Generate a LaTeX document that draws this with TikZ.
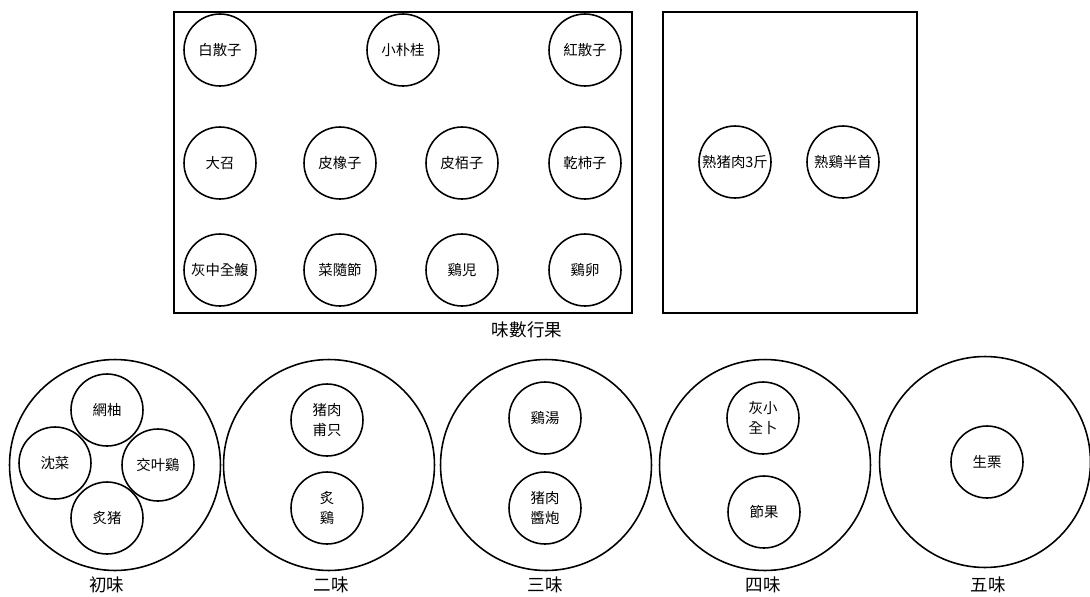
\documentclass[tikz,border=0pt]{standalone}
\usepackage{fontspec}
\setmainfont{Noto Sans CJK TC}

\tikzset{
    dish/.style={draw, circle, line width=0.9pt, minimum size=1.44cm, inner sep=0pt,
        align=center, font=\fontsize{8.2}{11}\selectfont},
    plate/.style={draw, circle, line width=0.9pt, minimum size=4.22cm, inner sep=0pt},
    tray/.style={draw, line width=1.1pt},
    caption/.style={font=\fontsize{10}{12}\selectfont}
}

\begin{document}
\begin{tikzpicture}[x=0.02cm, y=-0.02cm]
    % khung ảnh
    \useasboundingbox (0,0) rectangle (1090,596);

    % ==================== TRÊN: 味數行果 ====================
    \draw[tray] (174,12) rectangle (632,313);
    \draw[tray] (663,12) rectangle (917,313);

    % hàng 1
    \node[dish] (baisan)  at (220,50)  {白散子};
    \node[dish] (xiaopu)  at (403,50)  {小朴桂};
    \node[dish] (hongsan) at (585,50)  {紅散子};

    % hàng 2
    \node[dish] (dagu)    at (220,163) {大召};
    \node[dish] (pixiang) at (340,163) {皮橡子};
    \node[dish] (pilu)    at (462,163) {皮栢子};
    \node[dish] (qianshi) at (585,163) {乾柿子};

    % hàng 3
    \node[dish] (huifu)   at (220,270) {灰中全鰒};
    \node[dish] (caisui)  at (340,270) {菜隨節};
    \node[dish] (jier)    at (462,270) {鷄児};
    \node[dish] (jiluan)  at (585,270) {鷄卵};

    % khay bên phải
    \node[dish] (shuzhu)  at (735,162) {熟猪肉3斤};
    \node[dish] (shuji)   at (843,162) {熟鷄半首};

    \node[caption] (guo) at (527,330) {味數行果};

    % ==================== DƯỚI: 五味 ====================
    % 初味
    \node[plate] (chu) at (115,465) {};
    \node[dish] (wangyou) at (107,410) {網柚};
    \node[dish] (chencai) at (55,463)  {沈菜};
    \node[dish] (zhiye)   at (158,465) {交叶鷄};
    \node[dish] (zhizhu)  at (107,518) {炙猪};
    \node[caption] at (107,585) {初味};

    % 二味
    \node[plate] (er) at (329,465) {};
    \node[dish] (zhurou) at (327,420) {猪肉\\甫只};
    \node[dish] (zhiji)  at (327,508) {炙\\鷄};
    \node[caption] at (331,585) {二味};

    % 三味
    \node[plate] (san) at (546,465) {};
    \node[dish] (jitang)   at (545,418) {鷄湯};
    \node[dish] (jiangpao) at (545,508) {猪肉\\醬炮};
    \node[caption] at (545,585) {三味};

    % 四味
    \node[plate] (si) at (765,465) {};
    \node[dish] (huixiao) at (763,418) {灰小\\全卜};
    \node[dish] (jieguo)  at (764,512) {節果};
    \node[caption] at (763,585) {四味};

    % 五味
    \node[plate] (wu) at (985,462) {};
    \node[dish] (shengli) at (987,462) {生栗};
    \node[caption] at (988,585) {五味};
\end{tikzpicture}
\end{document}
